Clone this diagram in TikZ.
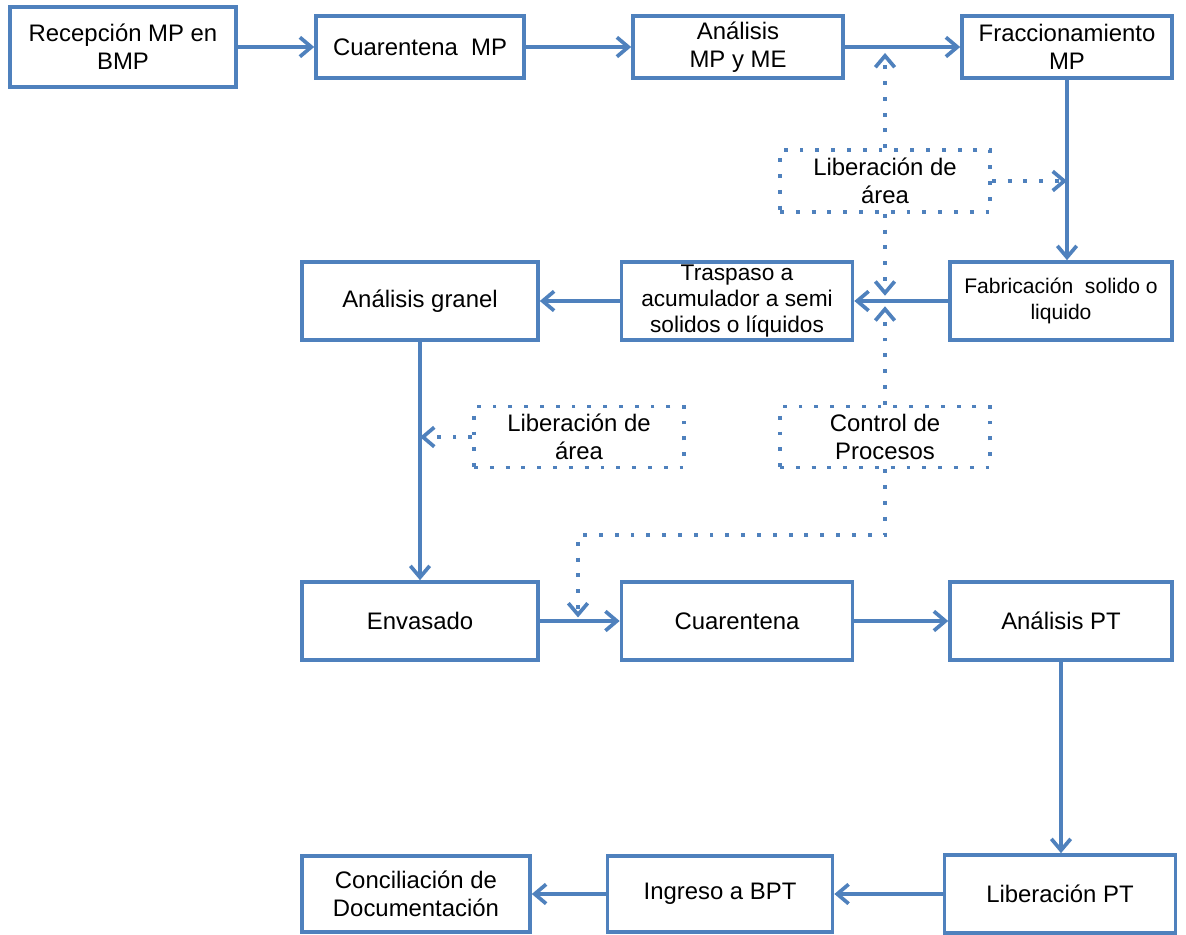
\documentclass[tikz,border=0pt]{standalone}
\usepackage{fontspec}
\setmainfont{Liberation Sans}
\usetikzlibrary{arrows.meta}
\definecolor{flowblue}{HTML}{4F81BD}

\begin{document}
\begin{tikzpicture}[x=0.02cm, y=-0.02cm, line width=2.1pt,
  box/.style={draw=flowblue, align=center, inner sep=0pt, font=\fontsize{13.6}{15.9}\selectfont},
  small/.style={font=\fontsize{12}{15}\selectfont},
  dotbox/.style={box, dash pattern=on 2.2pt off 6.8pt},
  flow/.style={draw=flowblue, -{Straight Barb[length=6.5pt,width=11pt]}},
  dotflow/.style={flow, dash pattern=on 2.2pt off 6.8pt}]
  \useasboundingbox (0,0) rectangle (1186,935);

  % materia prima
  \node[box, minimum width=4.52cm, minimum height=1.6cm] (recep) at (123,47) {Recepción MP en\\BMP};
  \node[box, minimum width=4.16cm, minimum height=1.24cm] (cuarmp) at (420,47) {Cuarentena\ \ MP};
  \node[box, minimum width=4.2cm, minimum height=1.24cm] (anamp) at (738,47) {Análisis\\MP y ME};
  \node[box, minimum width=4.2cm, minimum height=1.24cm] (fracc) at (1067,47) {Fraccionamiento\\MP};
  \node[dotbox, minimum width=4.2cm, minimum height=1.24cm] (libarea) at (885,181) {Liberación de\\área};

  % fabricacion
  \node[box, small, minimum width=4.44cm, minimum height=1.56cm] (fabric) at (1061,301) {Fabricación\ \ solido o\\liquido};
  \node[box, small, font=\fontsize{12.9}{14.8}\selectfont, minimum width=4.62cm, minimum height=1.56cm] (traspaso) at (737,301) {Traspaso a\\acumulador a semi\\solidos o líquidos};
  \node[box, minimum width=4.72cm, minimum height=1.56cm] (granel) at (420,301) {Análisis granel};
  \node[dotbox, minimum width=4.2cm, minimum height=1.22cm] (libgranel) at (579,437) {Liberación de\\área};
  \node[dotbox, minimum width=4.2cm, minimum height=1.22cm] (control) at (885,437) {Control de\\Procesos};

  % producto terminado
  \node[box, minimum width=4.72cm, minimum height=1.56cm] (envasado) at (420,621) {Envasado};
  \node[box, minimum width=4.62cm, minimum height=1.56cm] (cuarpt) at (737,621) {Cuarentena};
  \node[box, minimum width=4.44cm, minimum height=1.56cm] (analpt) at (1061,621) {Análisis PT};
  \node[box, minimum width=4.62cm, minimum height=1.56cm] (libpt) at (1060,894) {Liberación PT};
  \node[box, minimum width=4.5cm, minimum height=1.52cm] (ingreso) at (720,894) {Ingreso a BPT};
  \node[box, minimum width=4.56cm, minimum height=1.52cm] (concil) at (416,894) {Conciliación de\\Documentación};

  \draw[flow] (recep) -- (cuarmp);
  \draw[flow] (cuarmp) -- (anamp);
  \draw[flow] (anamp) -- (fracc);
  \draw[flow] (fracc.south) -- (fracc.south |- fabric.north);
  \draw[flow] (fabric) -- (traspaso);
  \draw[flow] (traspaso) -- (granel);
  \draw[flow] (granel) -- (envasado);
  \draw[flow] (envasado) -- (cuarpt);
  \draw[flow] (cuarpt) -- (analpt);
  \draw[flow] (analpt.south) -- (analpt.south |- libpt.north);
  \draw[flow] (libpt) -- (ingreso);
  \draw[flow] (ingreso) -- (concil);

  % liberaciones y controles
  \draw[dotflow] (libarea.north) -- ([yshift=-3.4pt]libarea.north |- anamp.east);
  \draw[dotflow] (libarea.east) -- (libarea.east -| fracc.south);
  \draw[dotflow] (libarea.south) -- ([yshift=3pt]libarea.south |- fabric.west);
  \draw[dotflow] (control.north) -- ([yshift=-3pt]control.north |- fabric.west);
  \draw[dotflow] (libgranel.west) -- (libgranel.west -| granel.south);
  \coordinate (turn) at (578,535);
  \draw[dotflow] (control.south) |- (turn) -- ([yshift=2pt]turn |- envasado.east);
\end{tikzpicture}
\end{document}
